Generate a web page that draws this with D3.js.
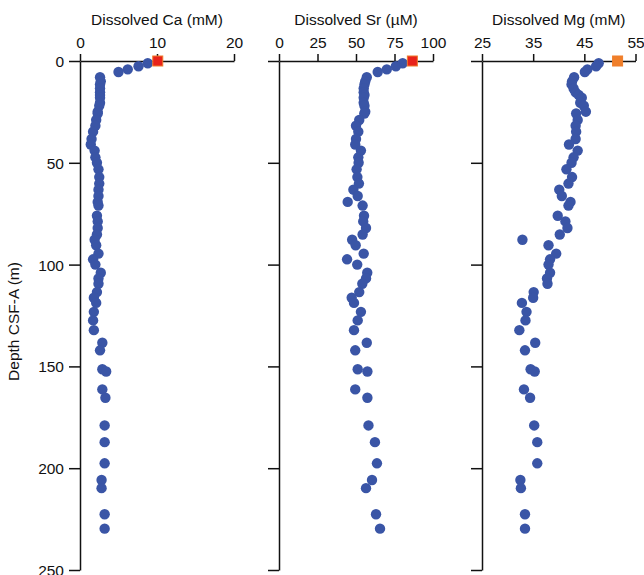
<!DOCTYPE html>
<html>
<head>
<meta charset="utf-8">
<script src="https://cdn.jsdelivr.net/npm/d3@7"></script>
<style>
  html, body { margin: 0; padding: 0; background: #fff; }
  svg { display: block; }
  text { font-family: "Liberation Sans", Arial, Helvetica, sans-serif; fill: #111; }
</style>
</head>
<body>
<svg id="chart" width="644" height="575"></svg>
<script>
// ---- data ----
const depth = [1.1, 2.6, 4.1, 5.4,
  8, 10, 11.5, 13.5, 15.4, 16.7, 18, 20.5, 22, 24.9,
  25.8, 29, 31.8, 34.7, 38.3, 41, 44, 47.3, 50, 53.2,
  57, 60.2, 63.2, 66.3, 69.2, 71, 76, 78.8, 82, 85.2,
  87.8, 90.5, 94.6, 97.4, 100, 104, 106.8, 109.4, 113.5, 116.3,
  118.8, 123.2, 127.4, 132.2, 138.4, 142.1, 151.4, 152.5, 161.3, 165.4,
  179, 187.2, 197.6, 205.8, 209.8, 222.6, 229.7];

const ca = [8.8, 7.6, 6.2, 5.0,
  2.6, 2.7, 2.6, 2.6, 2.6, 2.6, 2.6, 2.6, 2.5, 2.3,
  2.3, 2.1, 2.0, 1.7, 1.5, 1.4, 1.9, 2.0, 2.2, 2.4,
  2.5, 2.5, 2.4, 2.4, 2.3, 2.4, 2.2, 2.3, 2.3, 2.2,
  1.9, 2.1, 2.4, 1.7, 2.0, 2.7, 2.4, 2.4, 2.2, 1.8,
  2.1, 1.8, 1.7, 1.8, 2.9, 2.6, 2.9, 3.4, 2.9, 3.3,
  3.2, 3.2, 3.2, 2.8, 2.8, 3.2, 3.2];

const sr = [80.3, 75.9, 70.0, 64.1,
  57, 56, 55.5, 55, 55, 55.5, 55, 55, 55.5, 56,
  55.4, 52.1, 50, 51.5, 50, 49.5, 53.2, 51.5, 51.7, 50.4,
  50.9, 51.9, 48.3, 51.1, 44.6, 54.3, 55.2, 54.7, 56.5, 54.3,
  47.5, 49.8, 55, 44.2, 50.8, 57.3, 56.5, 54.1, 52.1, 47.2,
  48.7, 53.2, 51.1, 48.7, 57, 49.5, 51.1, 57.4, 49.5, 57.4,
  58.1, 62.3, 63.6, 60.4, 56.5, 63, 65.6];

const mg = [47.8, 47.3, 45.6, 45.1,
  43.0, 42.6, 42.5, 42.9, 43.3, 43.9, 44.5, 44.2, 44.9, 45.3,
  43.4, 43.7, 43.3, 43.4, 43.3, 42.0, 43.7, 42.9, 42.5, 41.5,
  42.6, 41.9, 40.1, 40.6, 42.3, 41.9, 39.8, 41.3, 41.7, 40.2,
  32.9, 38.0, 39.5, 38.3, 38.0, 38.3, 37.7, 37.8, 35.1, 35.0,
  32.8, 33.7, 33.5, 32.3, 35.4, 33.4, 34.5, 35.3, 33.2, 34.4,
  35.2, 35.8, 35.8, 32.5, 32.6, 33.4, 33.4];

// reference (seawater) values at 0 m
const refCa = 10.1, refSr = 86.6, refMg = 51.5;

const depthTicks = [0, 50, 100, 150, 200, 250];
const caTicks = [0, 10, 20];
const srTicks = [0, 25, 50, 75, 100];
const mgTicks = [25, 35, 45, 55];

// ---- layout ----
const svg = d3.select("#chart");
const yTop = 61, yBottom = 570;
const y = d3.scaleLinear().domain([0, 250]).range([yTop, yBottom]);
const fs = 15.5;

const panels = [
  { title: "Dissolved Ca (mM)", vals: ca, ref: refCa, domain: [0, 20], range: [80, 234], ticks: caTicks, labels: true,
    refFill: "#e8221b", refStroke: "#f07a2a" },
  { title: "Dissolved Sr (\u00b5M)", vals: sr, ref: refSr, domain: [0, 100], range: [279, 433], ticks: srTicks, labels: false,
    refFill: "#e8221b", refStroke: "#f07a2a" },
  { title: "Dissolved Mg (mM)", vals: mg, ref: refMg, domain: [25, 55], range: [482, 635.5], ticks: mgTicks, labels: false,
    refFill: "#f07f2a", refStroke: "#f07f2a" }
];

panels.forEach(p => {
  const x = d3.scaleLinear().domain(p.domain).range(p.range);
  const g = svg.append("g");

  // y axis
  const ya = g.append("g").attr("transform", `translate(${p.range[0]},0)`)
    .call(d3.axisLeft(y).tickValues(depthTicks).tickSize(11).tickSizeOuter(0)
      .tickFormat(p.labels ? d3.format("d") : () => ""));
  ya.select(".domain").attr("stroke", "#111").attr("stroke-width", 1.5);
  ya.selectAll(".tick line").attr("stroke", "#111").attr("stroke-width", 1.5);
  ya.selectAll(".tick text").attr("font-size", fs).attr("x", -16).attr("dy", "0.36em")
    .style("font-family", "'Liberation Sans', Arial, sans-serif").attr("fill", "#111");

  // x axis (top)
  const xa = g.append("g").attr("transform", `translate(0,${yTop})`)
    .call(d3.axisTop(x).tickValues(p.ticks).tickSize(7).tickSizeOuter(0).tickFormat(d3.format("d")));
  xa.select(".domain").attr("stroke", "#111").attr("stroke-width", 1.5);
  xa.selectAll(".tick line").attr("stroke", "#111").attr("stroke-width", 1.5);
  xa.selectAll(".tick text").attr("font-size", fs).attr("y", -13)
    .style("font-family", "'Liberation Sans', Arial, sans-serif").attr("fill", "#111");

  // title
  g.append("text")
    .attr("x", (p.range[0] + p.range[1]) / 2)
    .attr("y", 25)
    .attr("text-anchor", "middle")
    .attr("font-size", fs)
    .text(p.title);

  // data points
  g.append("g").selectAll("circle")
    .data(depth.map((d, i) => ({ d, v: p.vals[i] })))
    .join("circle")
    .attr("cx", d => x(d.v))
    .attr("cy", d => y(d.d))
    .attr("r", 5.2)
    .attr("fill", "#3a55a6");

  // reference square
  const s = 10;
  g.append("rect")
    .attr("x", x(p.ref) - s / 2)
    .attr("y", y(0) - s / 2)
    .attr("width", s)
    .attr("height", s)
    .attr("fill", p.refFill)
    .attr("stroke", p.refStroke)
    .attr("stroke-width", 1);
});

// y axis label
svg.append("text")
  .attr("transform", `translate(19,${(yTop + yBottom) / 2 + 6}) rotate(-90)`)
  .attr("text-anchor", "middle")
  .attr("font-size", fs)
  .text("Depth CSF-A (m)");
</script>
</body>
</html>
